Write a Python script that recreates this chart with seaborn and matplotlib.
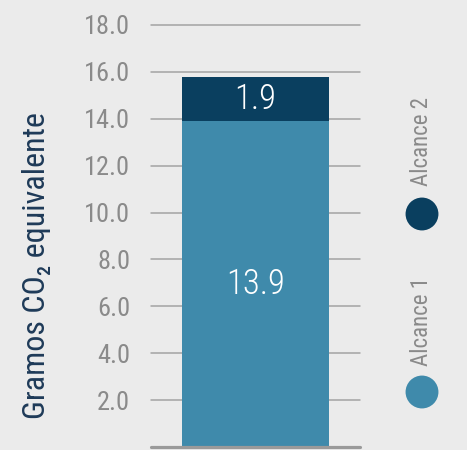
import matplotlib
matplotlib.use("Agg")
import matplotlib.pyplot as plt
from matplotlib import font_manager
import seaborn as sns
import pandas as pd

# Emission values (grams CO2 equivalent)
categories = ["Total"]
alcance_1 = [13.9]
alcance_2 = [1.9]
series_names = ["Alcance 1", "Alcance 2"]
y_ticks = [2.0, 4.0, 6.0, 8.0, 10.0, 12.0, 14.0, 16.0, 18.0]
y_label = "Gramos CO\u2082 equivalente"

BG = "#ebebeb"
LIGHT = "#3f8aab"
DARK = "#0a3f5f"
GRID = "#a3a3a3"
TICK_TXT = "#8a8a8a"
LABEL_TXT = "#1e3a58"

sns.set_theme(style="white")

installed = {f.name for f in font_manager.fontManager.ttflist}
narrow = next((n for n in ["Roboto Condensed", "Liberation Sans Narrow",
                           "DejaVu Sans Condensed", "Roboto"] if n in installed),
              "DejaVu Sans")
plt.rcParams["font.family"] = [narrow, "DejaVu Sans"]

df = pd.DataFrame({
    "cat": categories,
    "a1": alcance_1,
    "total": [a + b for a, b in zip(alcance_1, alcance_2)],
})

W, H = 467, 450
fig = plt.figure(figsize=(W / 100, H / 100), dpi=100)
fig.patch.set_facecolor(BG)

ax = fig.add_axes([151 / W, 3 / H, 209 / W, 422 / H])
ax.set_facecolor(BG)

for t in y_ticks:
    ax.axhline(t, color=GRID, lw=1.1, zorder=0, clip_on=False)
ax.axhline(0, color="#9a9a9a", lw=2.3, zorder=3, clip_on=False)

sns.barplot(data=df, x="cat", y="total", color=DARK, width=0.7,
            saturation=1, linewidth=0, ax=ax, zorder=2)
sns.barplot(data=df, x="cat", y="a1", color=LIGHT, width=0.7,
            saturation=1, linewidth=0, ax=ax, zorder=2)

ax.set_xlim(-0.5, 0.5)
ax.set_ylim(0, 18)
ax.set_xticks([])
ax.set_xlabel("")
ax.set_ylabel("")
ax.set_yticks(y_ticks)
ax.set_yticklabels([f"{t:.1f}" for t in y_ticks])
ax.tick_params(axis="y", length=0, pad=15, labelsize=19, labelcolor=TICK_TXT)
for s in ax.spines.values():
    s.set_visible(False)

# segment value labels
for i, (a1, a2) in enumerate(zip(alcance_1, alcance_2)):
    ax.text(i, a1 / 2, f"{a1:.1f}", color="white", ha="center", va="center",
            fontsize=25, fontweight="light", zorder=4)
    ax.text(i, a1 + a2 / 2, f"{a2:.1f}", color="white", ha="center",
            va="center", fontsize=25, fontweight="light", zorder=4)

fig.text(37 / W, 1 - 266 / H, y_label, rotation=90, ha="center", va="center",
         fontsize=23, color=LABEL_TXT)

# vertical legend on the right
lg = fig.add_axes([0, 0, 1, 1], facecolor="none")
leg_df = pd.DataFrame({"name": series_names, "x": [422, 422], "y": [392, 214]})
sns.scatterplot(data=leg_df, x="x", y="y", hue="name",
                palette=[LIGHT, DARK], s=560, linewidth=0, legend=False, ax=lg)
lg.set_xlim(0, W)
lg.set_ylim(H, 0)
lg.axis("off")
for name, ty in zip(series_names, [321, 141]):
    lg.text(421, ty, name, rotation=90, ha="center", va="center",
            fontsize=16.5, color=TICK_TXT)

fig.savefig("out.png", dpi=100, facecolor=BG)
